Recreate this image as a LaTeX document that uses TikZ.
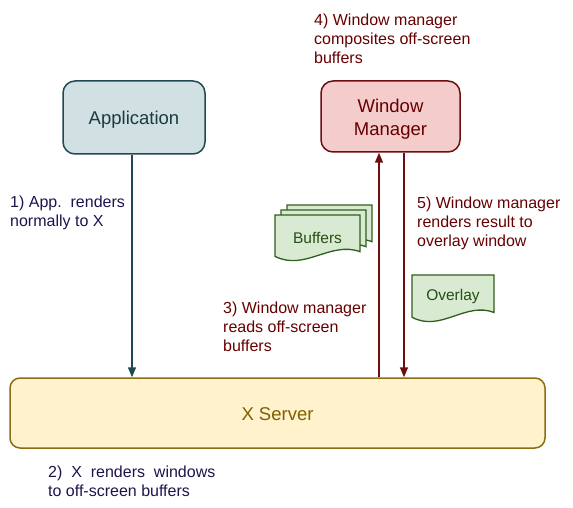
\documentclass[tikz,border=0pt]{standalone}
\usepackage{fontspec}
\setmainfont{Liberation Sans}
\usepackage{tikz}
\usetikzlibrary{arrows.meta}
\definecolor{appfill}{HTML}{D0E0E3}
\definecolor{appline}{HTML}{1E4A52}
\definecolor{apptext}{HTML}{1C3A40}
\definecolor{wmfill}{HTML}{F4CCCC}
\definecolor{wmline}{HTML}{6D0E0E}
\definecolor{wmtext}{HTML}{660000}
\definecolor{xfill}{HTML}{FFF2CC}
\definecolor{xline}{HTML}{8C6D12}
\definecolor{xtext}{HTML}{7F6000}
\definecolor{docfill}{HTML}{D9EAD3}
\definecolor{docline}{HTML}{2E5F1C}
\definecolor{doctext}{HTML}{274E13}
\definecolor{noteblue}{HTML}{20124D}
\definecolor{notered}{HTML}{660000}
\newcommand{\docsheet}[4]{%
  \draw[docpage] (#1,#2) -- ({#1+#3},#2) -- ({#1+#3},{#2+0.78*#4})
    .. controls ({#1+0.65*#3},{#2+0.55*#4}) and ({#1+0.35*#3},{#2+1.2*#4}) .. (#1,{#2+0.88*#4}) -- cycle;}
\newcommand{\lowered}[2]{\raisebox{-#1}[\height][\depth]{#2}}

\begin{document}
\begin{tikzpicture}[x=1pt,y=-1pt]
\tikzstyle{box}=[rectangle,rounded corners=12pt,line width=1.5pt,font=\fontsize{18.5}{23}\selectfont,align=center]
\tikzstyle{appbox}=[box,fill=appfill,draw=appline,text=apptext,minimum width=142pt,minimum height=73pt]
\tikzstyle{wmbox}=[box,fill=wmfill,draw=wmline,text=wmtext,minimum width=139pt,minimum height=71pt]
\tikzstyle{xbox}=[box,rounded corners=10pt,fill=xfill,draw=xline,text=xtext,minimum width=535pt,minimum height=70pt]
\tikzstyle{docpage}=[fill=docfill,draw=docline,line width=1.3pt]
\tikzstyle{doclabel}=[text=doctext,font=\fontsize{15.5}{19}\selectfont]
\tikzstyle{note}=[anchor=north west,inner sep=0pt,align=left,font=\fontsize{16}{19}\selectfont]
\tikzstyle{link}=[line width=1.6pt,-{Triangle[length=10pt,width=8pt]}]
\useasboundingbox (0,0) rectangle (573,508);

\node[appbox] (app) at (134,117.5) {\lowered{2.5pt}{Application}};
\node[wmbox] (wm) at (390.5,116.5) {\lowered{3pt}{\begin{tabular}{@{}c@{}}Window\\Manager\end{tabular}}};
\node[xbox] (xs) at (277.5,413) {\lowered{1pt}{X Server}};

\draw[link,appline] ([xshift=-2pt]app.south) -- ([xshift=-2pt]app.south |- xs.north);
\draw[link,wmline] ([xshift=-11.5pt]wm.south |- xs.north) -- ([xshift=-11.5pt]wm.south);
\draw[link,wmline] ([xshift=13.5pt]wm.south) -- ([xshift=13.5pt]wm.south |- xs.north);

\docsheet{287}{205}{85}{47}
\docsheet{281}{210}{85}{47}
\docsheet{275}{215}{85}{47}
\node[doclabel] (buffers) at (317.5,238) {Buffers};
\docsheet{412}{275}{82}{48}
\node[doclabel] (overlay) at (453,296) {Overlay};

\node[note,text=noteblue] (n1) at (10,196) {1) App.\ \ renders\\normally to X};
\node[note,text=noteblue] (n2) at (48,466) {2)\ \ X\ \ renders\ \ windows\\to off-screen buffers};
\node[note,text=notered] (n3) at (223,302) {3) Window manager\\reads off-screen\\buffers};
\node[note,text=notered] (n4) at (314,14) {4) Window manager\\composites off-screen\\buffers};
\node[note,text=notered] (n5) at (417,197) {5) Window manager\\renders result to\\overlay window};
\end{tikzpicture}
\end{document}
